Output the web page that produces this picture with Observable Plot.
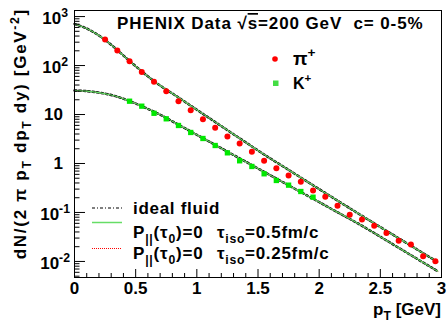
<!DOCTYPE html>
<html><head><meta charset="utf-8">
<script src="https://cdn.jsdelivr.net/npm/d3@7"></script>
<script src="https://cdn.jsdelivr.net/npm/@observablehq/plot@0.6"></script>
<style>body{margin:0;background:#fff} svg text{white-space:pre}</style>
</head><body><div id="chart"></div><script>
// ---- data ----
const pionPT = [0.25,0.35,0.45,0.55,0.65,0.75,0.85,0.95,1.05,1.15,1.25,1.35,1.45,1.55,1.65,1.75,1.85,1.95,2.05,2.15,2.25,2.35,2.45,2.55,2.65,2.75,2.85,2.95];
const pionYield = [340,202,122,74,46.4,29.9,18.7,12.2,8.0,5.35,3.56,2.56,1.73,1.135,0.80,0.569,0.424,0.281,0.209,0.137,0.0898,0.072,0.0535,0.0379,0.0264,0.0222,0.0127,0.0101];
const kaonPT = [0.45,0.55,0.65,0.75,0.85,0.95,1.05,1.15,1.25,1.35,1.45,1.55,1.65,1.75,1.85,1.95];
const kaonYield = [18.7,14.8,10.6,8.17,5.97,4.30,3.24,2.33,1.65,1.135,0.869,0.616,0.450,0.361,0.268,0.205];
const curvePT = [0,0.1,0.2,0.3,0.4,0.5,0.6,0.7,0.8,0.9,1.0,1.1,1.2,1.3,1.4,1.5,1.6,1.7,1.8,1.9,2.0,2.1,2.2,2.3,2.4,2.5,2.6,2.7,2.8,2.9,2.97];
const pionCurve = [708,570,410,265,160,97,60,39.1,26.9,18.4,12.5,8.53,5.81,3.96,2.70,1.84,1.27,0.887,0.618,0.43,0.30,0.209,0.146,0.102,0.0716,0.0504,0.0355,0.025,0.0176,0.0124,0.0097];
const kaonCurve = [31,30,28,25,21,16.8,13.0,9.95,7.26,5.29,3.85,2.81,2.05,1.49,1.09,0.79,0.577,0.42,0.306,0.223,0.163,0.118,0.0863,0.063,0.0452,0.032,0.0226,0.016,0.0113,0.008,0.0063];
const xTickLabels = [0,0.5,1,1.5,2,2.5,3];
const yTickValues = [0.01,0.1,1,10,100,1000];
const models = ["ideal fluid","P||(τ0)=0 τiso=0.5fm/c","P||(τ0)=0 τiso=0.25fm/c"];

// ---- build ----
const W = 447, H = 322, mL = 74, mR = 6, mT = 10, mB = 45;
const fw = W - mL - mR, fh = H - mT - mB;
const xMinor = d3.range(1, 30).map(i => i / 10).filter(v => Math.abs(v * 2 - Math.round(v * 2)) > 1e-6);
const yMinor = [];
for (let e = -3; e <= 3; e++) for (let k = 2; k <= 9; k++) { const v = k * 10 ** e; if (v > 0.0047 && v < 1330) yMinor.push(v); }

const pion = pionPT.map((x, i) => ({x, y: pionYield[i]}));
const kaon = kaonPT.map((x, i) => ({x, y: kaonYield[i]}));
const curves = [];
for (const [name, arr] of [["pi", pionCurve], ["K", kaonCurve]])
  curvePT.forEach((x, i) => curves.push({s: name, x, y: arr[i]}));

const FONT = "Liberation Sans, Arial, Helvetica, sans-serif";
const GREEN_LINE = "#66dd66";

const plot = Plot.plot({
  width: W, height: H, marginLeft: mL, marginRight: mR, marginTop: mT, marginBottom: mB,
  style: {fontFamily: FONT, fontWeight: "bold", fontSize: "17px", background: "white"},
  x: {domain: [0, 3], label: null},
  y: {type: "log", domain: [0.0047, 1330], label: null, axis: null},
  marks: [
    Plot.line(curves, {x: "x", y: "y", z: "s", stroke: "red", strokeWidth: 1, strokeDasharray: "1.5,1.5", curve: "catmull-rom"}),
    Plot.line(curves, {x: "x", y: "y", z: "s", stroke: "black", strokeWidth: 2.4, strokeDasharray: "2,2.5", curve: "catmull-rom"}),
    Plot.line(curves, {x: "x", y: "y", z: "s", stroke: GREEN_LINE, strokeWidth: 1.1, curve: "catmull-rom"}),
    Plot.dot(pion, {x: "x", y: "y", fill: "#ff0000", r: 3, symbol: "circle"}),
    Plot.dot(kaon, {x: "x", y: "y", fill: "#00e800", r: 3, symbol: "square"}),
    Plot.ruleX(xTickLabels, {x: d => d, insetTop: fh - 8, stroke: "black"}),
    Plot.ruleX(xMinor, {x: d => d, insetTop: fh - 4, stroke: "black"}),
    Plot.ruleY(yTickValues, {y: d => d, insetRight: fw - 11, stroke: "black"}),
    Plot.ruleY(yMinor, {y: d => d, insetRight: fw - 5.5, stroke: "black"}),
    Plot.axisX(xTickLabels, {tickSize: 0, tickPadding: 4, tickFormat: d => String(d), fontSize: 17, fontWeight: "bold", label: null}),
    Plot.frame({stroke: "black"})
  ]
});
document.getElementById("chart").append(plot);

const svg = d3.select(plot);
const ys = plot.scale("y");

function rich(x, y, parts, {anchor = "start", size = 17, rotate = 0, family = FONT, weight = "bold", spacing = 0} = {}) {
  const t = svg.append("text").attr("x", x).attr("y", y).attr("text-anchor", anchor)
    .attr("font-size", size).attr("font-weight", weight).attr("font-family", family).attr("fill", "black")
    .style("letter-spacing", spacing + "px");
  if (rotate) t.attr("transform", `rotate(${rotate},${x},${y})`);
  let shift = 0;
  for (const p of parts) {
    const [s, mode, deco] = p;
    const target = mode === "sup" ? -0.42 * size : mode === "sub" ? 0.32 * size : 0;
    const ts = t.append("tspan").attr("dy", target - shift).text(s);
    if (mode) ts.attr("font-size", size * 0.72);
    if (deco) ts.style("text-decoration", deco);
    shift = target;
  }
  return t;
}

// y tick labels with exponents
for (const v of yTickValues) {
  const e = Math.round(Math.log10(v));
  const py = ys.apply(v);
  if (e === 0) rich(63, py + 6, [["1"]], {anchor: "end"});
  else if (e === 1) rich(63, py + 6, [["10"]], {anchor: "end"});
  else rich(e < 0 ? 70 : 68, py + 8, [["10"], [String(e), "sup"]], {anchor: "end"});
}

// axis titles
rich(441, 315, [["p"], ["T", "sub"], [" [GeV]"]], {anchor: "end", size: 17});
rich(26, 8, [["dN/(2 π p"], ["T", "sub"], [" dp"], ["T", "sub"], [" dy) [GeV"], ["-2", "sup"], ["]"]], {anchor: "end", size: 17, rotate: -90, spacing: 1.7});

// header
rich(117, 29, [["PHENIX Data "], ["√"], ["s", null, "overline"], ["=200 GeV  c= 0-5%"]], {size: 17, spacing: 0.9});

// species legend
svg.append("circle").attr("cx", 275).attr("cy", 59).attr("r", 2.8).attr("fill", "#ff0000");
rich(293, 65, [["π"], ["+", "sup"]], {size: 19});
svg.append("rect").attr("x", 273).attr("y", 80.5).attr("width", 5.5).attr("height", 5.5).attr("fill", "#44dd44");
rich(293, 89, [["K"], ["+", "sup"]], {size: 16});

// model legend
svg.append("line").attr("x1", 92).attr("x2", 122).attr("y1", 208).attr("y2", 208)
  .attr("stroke", "black").attr("stroke-width", 1.2).attr("stroke-dasharray", "3,2,1,2");
rich(133, 214, [[models[0]]], {size: 17, spacing: 0.7});
svg.append("line").attr("x1", 92).attr("x2", 122).attr("y1", 222.5).attr("y2", 222.5)
  .attr("stroke", GREEN_LINE).attr("stroke-width", 1.5);
rich(133, 238, [["P"], ["||", "sub"], ["(τ"], ["0", "sub"], [")=0"]], {size: 17, spacing: 0.8});
rich(217, 238, [["τ"], ["iso", "sub"], ["=0.5fm/c"]], {size: 17, spacing: 0.7});
svg.append("line").attr("x1", 92).attr("x2", 122).attr("y1", 248.5).attr("y2", 248.5)
  .attr("stroke", "red").attr("stroke-width", 1).attr("stroke-dasharray", "1,1");
rich(133, 259, [["P"], ["||", "sub"], ["(τ"], ["0", "sub"], [")=0"]], {size: 17, spacing: 0.8});
rich(217, 259, [["τ"], ["iso", "sub"], ["=0.25fm/c"]], {size: 17, spacing: 0.7});
</script></body></html>
